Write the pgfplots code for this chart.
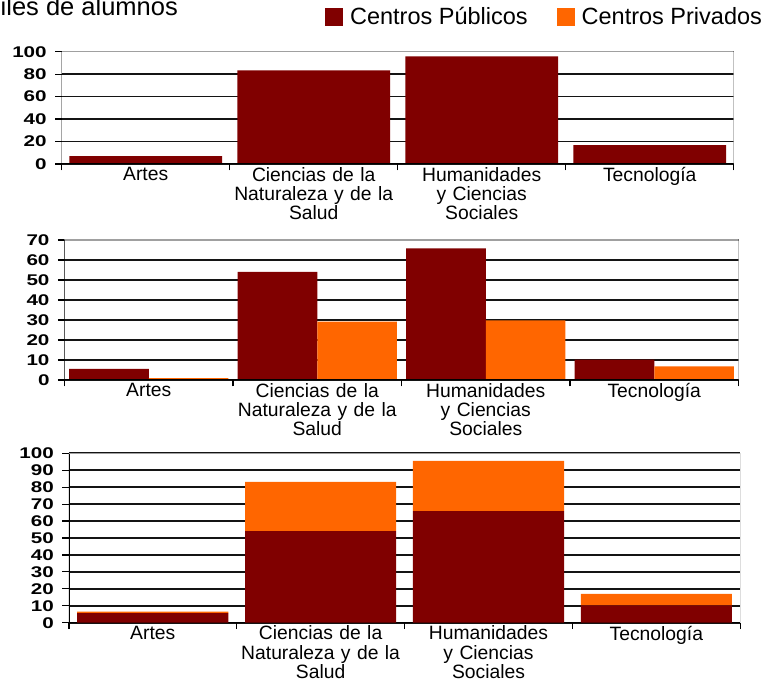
\documentclass[border=0pt]{standalone}
\usepackage{fontspec}
\setmainfont{Liberation Sans}
\newfontfamily\tickfont{Liberation Sans Bold}[FakeStretch=1.33]
\newfontfamily\catfont{Liberation Sans}
\usepackage{pgfplots}
\pgfplotsset{compat=1.18}
\definecolor{pub}{HTML}{800000}
\definecolor{priv}{HTML}{FF6600}
\definecolor{frame}{HTML}{A0A0A0}

\pgfplotstableread{
x pub priv
0 5.6 0.9
1 54 29.2
2 65.8 29.8
3 10.2 6.8
}\split

\pgfplotstableread{
x tot
0 7.1
1 83.4
2 95.8
3 16.9
}\total

\pgfplotsset{
  base/.style={
    scale only axis, anchor=south west,
    xmin=-0.5, xmax=3.5, ymin=0,
    axis line style={draw=none},
    xtick={-0.5,0.5,1.5,2.5,3.5}, xticklabels={},
    x tick style={black, line width=1.4pt},
    extra x ticks={0,1,2,3},
    extra x tick labels={{Artes},{Ciencias de la\\Naturaleza y de la\\Salud},{Humanidades\\y Ciencias\\Sociales},{Tecnología}},
    extra x tick style={major tick length=0pt, tick style={draw=none},
      x tick label style={font=\catfont\fontsize{19.3}{19.3}\selectfont, text width=175pt, align=center, anchor=north, inner sep=3pt}},
    xtick pos=bottom, ytick pos=left,
    tick align=outside,
    major tick length=6.5pt,
    ymajorgrids, grid style={black!92, line width=1.6pt},
    y tick style={black, line width=1.2pt},
    yticklabel style={font=\tickfont\fontsize{15.5}{16}\selectfont, xshift=-5pt},
    /pgf/number format/assume math mode=true,
  },
}

\begin{document}
\begin{tikzpicture}[x=1pt,y=1pt]
\useasboundingbox (0,0) rectangle (782,683);

\node[anchor=base west, inner sep=0pt, font=\fontsize{25.5}{26}\selectfont] at (0.5,667.3) {\llap{M}iles de alumnos};

% top chart
\begin{axis}[base, at={(61.7pt,519pt)}, width=672pt, height=112.3pt,
  ymax=100, ytick={0,20,...,100},
  legend columns=2,
  legend image code/.code={\fill[#1] (0pt,-9pt) rectangle (18pt,9pt);},
  legend style={draw=none, fill=none, inner sep=0pt, inner xsep=0pt, inner ysep=0pt,
    font=\fontsize{23.5}{24}\selectfont,
    at={(axis description cs:0.3916,1.309)}, anchor=west,
    /tikz/every odd column/.append style={column sep=5pt},
    /tikz/every even column/.append style={column sep=27pt}},
]
\addlegendimage{fill=pub, draw=none}
\addlegendentry{Centros Públicos}
\addlegendimage{fill=priv, draw=none}
\addlegendentry{Centros Privados}
\addplot[ybar, bar width=0.91, fill=pub, draw=none, forget plot] table[x=x, y=tot] {\total};
\draw[frame, line width=1.5pt] (rel axis cs:0,1) -- (rel axis cs:1,1) -- (rel axis cs:1,0);
\draw[black, line width=1.5pt] (rel axis cs:0,1) -- (rel axis cs:0,0) -- (rel axis cs:1,0);
\end{axis}

% middle chart
\begin{axis}[base, at={(64.5pt,303pt)}, width=674pt, height=140pt,
  ymax=70, ytick={0,10,...,70},
]
\addplot[ybar, bar width=0.472, bar shift=-0.236, fill=pub, draw=none] table[x=x, y=pub] {\split};
\addplot[ybar, bar width=0.472, bar shift=0.236, fill=priv, draw=none] table[x=x, y=priv] {\split};
\draw[frame, line width=1.5pt] (rel axis cs:0,1) -- (rel axis cs:1,1) -- (rel axis cs:1,0);
\draw[black, line width=1.5pt] (rel axis cs:0,1) -- (rel axis cs:0,0) -- (rel axis cs:1,0);
\end{axis}

% bottom chart
\begin{axis}[base, at={(68.8pt,60.3pt)}, width=671.5pt, height=169.4pt,
  ymax=100, ytick={0,10,...,100},
  ybar stacked, bar width=0.9,
]
\addplot[fill=pub, draw=none] table[x=x, y=pub] {\split};
\addplot[fill=priv, draw=none] table[x=x, y=priv] {\split};
\draw[frame, line width=1.5pt] (rel axis cs:0,1) -- (rel axis cs:1,1) -- (rel axis cs:1,0);
\draw[black, line width=1.5pt] (rel axis cs:0,1) -- (rel axis cs:0,0) -- (rel axis cs:1,0);
\end{axis}
\end{tikzpicture}
\end{document}
